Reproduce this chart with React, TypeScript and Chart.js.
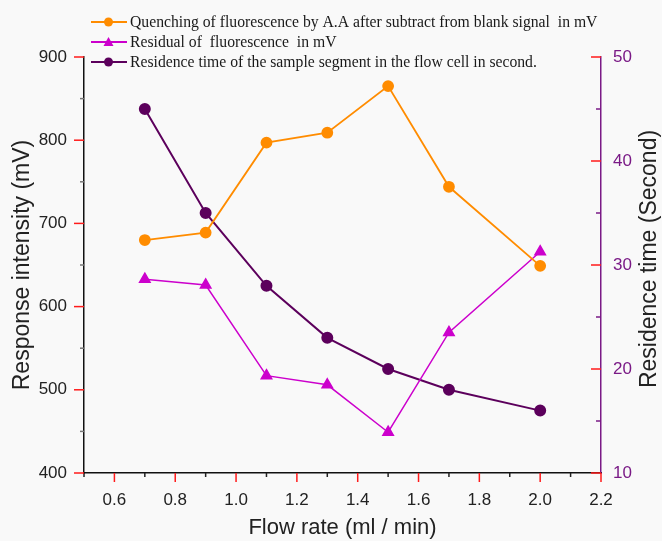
import React, { useEffect, useRef } from "react";
import { Chart, registerables } from "chart.js";

Chart.register(...registerables);

const flowRates = [0.7, 0.9, 1.1, 1.3, 1.5, 1.7, 2.0];
const quenching = [680, 689, 797, 809, 865, 744, 649];
const residual = [633, 626, 517, 506, 449, 569, 666];
const residenceTime = [45, 35, 28, 23, 20, 18, 16];

const xTickValues = [0.6, 0.8, 1.0, 1.2, 1.4, 1.6, 1.8, 2.0, 2.2];
const xMinorValues = [0.5, 0.7, 0.9, 1.1, 1.3, 1.5, 1.7, 1.9, 2.1];
const leftTickValues = [400, 500, 600, 700, 800, 900];
const leftMinorValues = [450, 550, 650, 750, 850];
const rightTickValues = [10, 20, 30, 40, 50];
const rightMinorValues = [15, 25, 35, 45];

const legendLabels = [
  "Quenching of fluorescence by A.A after subtract from blank signal  in mV",
  "Residual of  fluorescence  in mV",
  "Residence time of the sample segment in the flow cell in second.",
];

const ORANGE = "#ff8c00";
const MAGENTA = "#cc00cc";
const PURPLE = "#5c005c";
const AXIS_PURPLE = "#7a1a86";
const RED = "#ff1a1a";

const SANS = "'Liberation Sans', Arial, sans-serif";
const SERIF = "'Liberation Serif', 'Times New Roman', serif";

const decorPlugin = {
  id: "decor",
  afterDraw(chart: any) {
    const ctx = chart.ctx;
    const xs = chart.scales.x;
    const yl = chart.scales.y;
    const yr = chart.scales.y1;
    const area = chart.chartArea;
    ctx.save();
    ctx.lineWidth = 1.5;
    xTickValues.forEach((v) => {
      const px = xs.getPixelForValue(v);
      ctx.strokeStyle = RED;
      ctx.beginPath();
      ctx.moveTo(px, area.bottom);
      ctx.lineTo(px, area.bottom + 9);
      ctx.stroke();
    });
    xMinorValues.forEach((v) => {
      const px = xs.getPixelForValue(v);
      ctx.strokeStyle = "#222";
      ctx.beginPath();
      ctx.moveTo(px, area.bottom);
      ctx.lineTo(px, area.bottom + 4);
      ctx.stroke();
    });
    leftTickValues.forEach((v) => {
      const py = yl.getPixelForValue(v);
      ctx.strokeStyle = RED;
      ctx.beginPath();
      ctx.moveTo(area.left, py);
      ctx.lineTo(area.left - 10, py);
      ctx.stroke();
    });
    leftMinorValues.forEach((v) => {
      const py = yl.getPixelForValue(v);
      ctx.strokeStyle = "#777";
      ctx.beginPath();
      ctx.moveTo(area.left, py);
      ctx.lineTo(area.left - 4, py);
      ctx.stroke();
    });
    rightTickValues.forEach((v) => {
      const py = yr.getPixelForValue(v);
      ctx.strokeStyle = RED;
      ctx.beginPath();
      ctx.moveTo(area.right, py);
      ctx.lineTo(area.right - 10, py);
      ctx.stroke();
    });
    rightMinorValues.forEach((v) => {
      const py = yr.getPixelForValue(v);
      ctx.strokeStyle = AXIS_PURPLE;
      ctx.beginPath();
      ctx.moveTo(area.right, py);
      ctx.lineTo(area.right - 5, py);
      ctx.stroke();
    });
    ctx.save();
    ctx.translate(650, (area.top + area.bottom) / 2 - 6);
    ctx.rotate(-Math.PI / 2);
    ctx.font = `23px ${SANS}`;
    ctx.fillStyle = "#222";
    ctx.textAlign = "center";
    ctx.textBaseline = "middle";
    ctx.fillText("Residence time (Second)", 0, 0);
    ctx.restore();
    const colors = [ORANGE, MAGENTA, PURPLE];
    const styles = ["circle", "triangle", "circle"];
    const rowsY = [22, 42, 62];
    ctx.font = `15.7px ${SERIF}`;
    ctx.textBaseline = "middle";
    ctx.textAlign = "left";
    for (let i = 0; i < 3; i++) {
      const y = rowsY[i];
      ctx.strokeStyle = colors[i];
      ctx.fillStyle = colors[i];
      ctx.lineWidth = 2;
      ctx.beginPath();
      ctx.moveTo(91, y);
      ctx.lineTo(127, y);
      ctx.stroke();
      if (styles[i] === "circle") {
        ctx.beginPath();
        ctx.arc(108.5, y, 4.5, 0, Math.PI * 2);
        ctx.fill();
      } else {
        ctx.beginPath();
        ctx.moveTo(108.5, y - 5);
        ctx.lineTo(113.5, y + 4);
        ctx.lineTo(103.5, y + 4);
        ctx.closePath();
        ctx.fill();
      }
      ctx.fillStyle = "#1a1a1a";
      ctx.fillText(legendLabels[i], 130, y + 1);
    }
    ctx.restore();
  },
};

export default function App() {
  const canvasRef = useRef<HTMLCanvasElement | null>(null);

  useEffect(() => {
    if (!canvasRef.current) return;
    const chart = new Chart(canvasRef.current, {
      type: "line",
      data: {
        datasets: [
          {
            label: legendLabels[0],
            data: flowRates.map((x, i) => ({ x, y: quenching[i] })),
            borderColor: ORANGE,
            backgroundColor: ORANGE,
            borderWidth: 1.8,
            pointStyle: "circle",
            pointRadius: 5,
            yAxisID: "y",
          },
          {
            label: legendLabels[1],
            data: flowRates.map((x, i) => ({ x, y: residual[i] })),
            borderColor: MAGENTA,
            backgroundColor: MAGENTA,
            borderWidth: 1.5,
            pointStyle: "triangle",
            pointRadius: 6,
            yAxisID: "y",
          },
          {
            label: legendLabels[2],
            data: flowRates.map((x, i) => ({ x, y: residenceTime[i] })),
            borderColor: PURPLE,
            backgroundColor: PURPLE,
            borderWidth: 2,
            pointStyle: "circle",
            pointRadius: 5,
            yAxisID: "y1",
          },
        ],
      },
      options: {
        animation: false,
        responsive: true,
        maintainAspectRatio: false,
        layout: { padding: { top: 57, right: 0, left: 0, bottom: 0 } },
        plugins: {
          legend: { display: false },
          tooltip: { enabled: false },
        },
        scales: {
          x: {
            type: "linear",
            min: 0.5,
            max: 2.2,
            afterBuildTicks: (s: any) => {
              s.ticks = xTickValues.map((v) => ({ value: v }));
            },
            afterFit: (s: any) => {
              s.height = 68;
            },
            grid: { display: false, drawTicks: false },
            border: { display: true, color: "#111", width: 1.5 },
            ticks: {
              padding: 17,
              color: "#222",
              font: { family: SANS, size: 17 },
              maxRotation: 0,
              autoSkip: false,
              callback: (v: any) => Number(v).toFixed(1),
            },
            title: {
              display: true,
              text: "Flow rate (ml / min)",
              color: "#222",
              font: { family: SANS, size: 22 },
              padding: { top: 0, bottom: 0 },
            },
          },
          y: {
            type: "linear",
            position: "left",
            min: 400,
            max: 900,
            afterBuildTicks: (s: any) => {
              s.ticks = leftTickValues.map((v) => ({ value: v }));
            },
            afterFit: (s: any) => {
              s.width = 84;
            },
            grid: { display: false, drawTicks: false },
            border: { display: true, color: "#111", width: 1.5 },
            ticks: {
              padding: 17,
              color: "#222",
              font: { family: SANS, size: 17 },
            },
            title: {
              display: true,
              text: "Response intensity (mV)",
              color: "#222",
              font: { family: SANS, size: 23 },
              padding: { top: 9, bottom: 0 },
            },
          },
          y1: {
            type: "linear",
            position: "right",
            min: 10,
            max: 50,
            afterBuildTicks: (s: any) => {
              s.ticks = rightTickValues.map((v) => ({ value: v }));
            },
            afterFit: (s: any) => {
              s.width = 61;
            },
            grid: { display: false, drawTicks: false },
            border: { display: true, color: AXIS_PURPLE, width: 1.5 },
            ticks: {
              padding: 12,
              color: AXIS_PURPLE,
              font: { family: SANS, size: 17 },
            },
            title: { display: false },
          },
        },
      },
      plugins: [decorPlugin],
    } as any);
    return () => chart.destroy();
  }, []);

  return (
    <div
      style={{
        position: "fixed",
        left: 0,
        top: 0,
        width: 662,
        height: 541,
        background: "#f9f9f9",
      }}
    >
      <canvas ref={canvasRef} />
    </div>
  );
}
